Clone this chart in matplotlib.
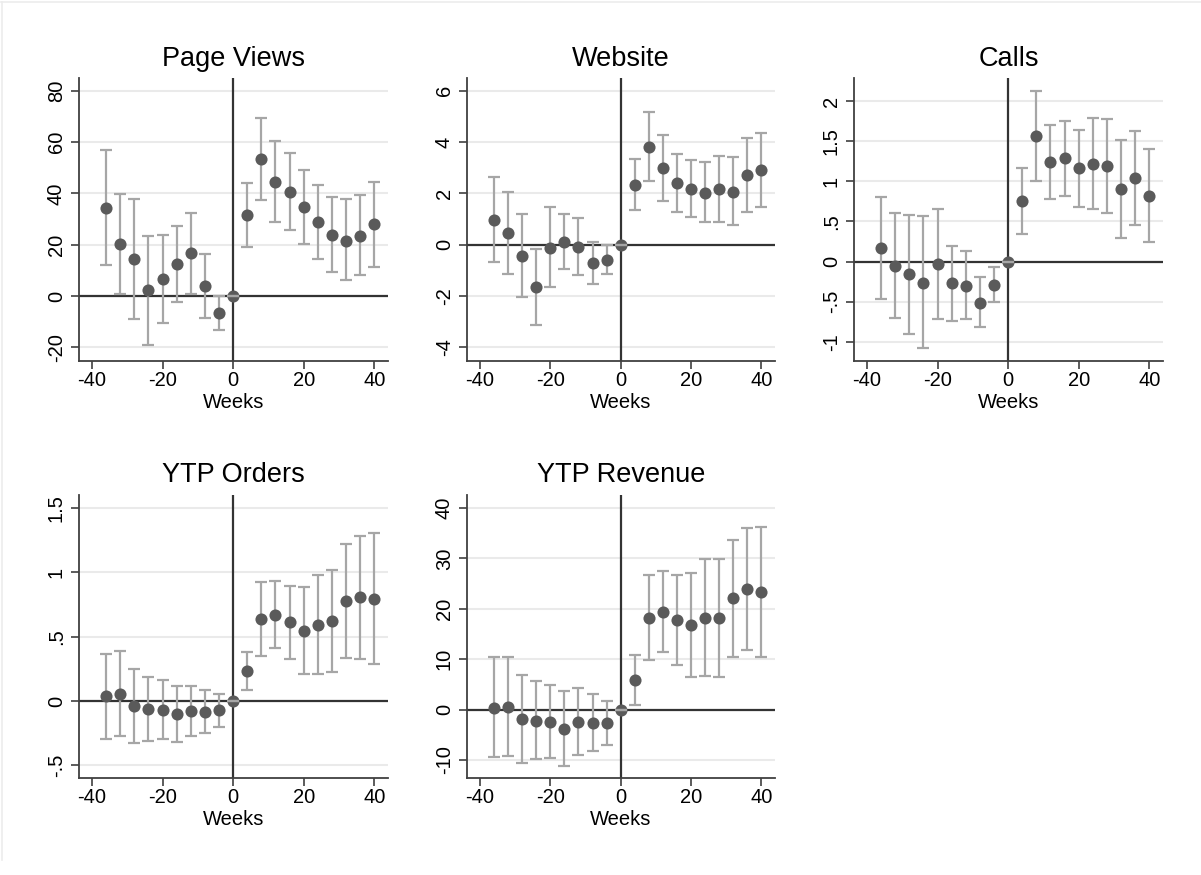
import numpy as np
import matplotlib.pyplot as plt
from matplotlib.lines import Line2D

plt.rcParams['font.family'] = ['Liberation Sans', 'DejaVu Sans']
plt.rcParams['axes.unicode_minus'] = False

# event-time (weeks relative to start)
weeks = [-36, -32, -28, -24, -20, -16, -12, -8, -4, 0,
         4, 8, 12, 16, 20, 24, 28, 32, 36, 40]

# Page Views: estimate, lower CI, upper CI
pv_est = [34.5, 20.4, 14.5, 2.2, 6.6, 12.4, 16.7, 3.8, -6.6, 0,
          31.5, 53.4, 44.6, 40.7, 34.6, 28.8, 24.0, 21.5, 23.6, 28.0]
pv_lo = [12.2, 0.8, -8.9, -19.1, -10.5, -2.2, 0.8, -8.7, -13.4, 0,
         19.2, 37.6, 28.7, 25.9, 20.2, 14.5, 9.3, 6.1, 8.2, 11.5]
pv_hi = [57.1, 39.9, 38.0, 23.6, 23.9, 27.5, 32.5, 16.3, 0.0, 0,
         44.0, 69.4, 60.6, 55.8, 49.3, 43.4, 38.8, 37.7, 39.4, 44.5]

# Website
web_est = [0.96, 0.45, -0.45, -1.66, -0.12, 0.12, -0.09, -0.71, -0.58, 0,
           2.32, 3.82, 2.99, 2.40, 2.15, 2.03, 2.15, 2.05, 2.71, 2.90]
web_lo = [-0.69, -1.14, -2.02, -3.14, -1.65, -0.96, -1.19, -1.52, -1.13, 0,
          1.36, 2.48, 1.70, 1.28, 1.06, 0.87, 0.88, 0.75, 1.26, 1.46]
web_hi = [2.64, 2.07, 1.19, -0.18, 1.45, 1.19, 1.02, 0.12, 0.0, 0,
          3.32, 5.18, 4.28, 3.54, 3.29, 3.21, 3.47, 3.40, 4.15, 4.35]

# Calls
calls_est = [0.17, -0.06, -0.16, -0.26, -0.03, -0.27, -0.30, -0.51, -0.29, 0,
             0.75, 1.56, 1.24, 1.29, 1.16, 1.22, 1.19, 0.91, 1.04, 0.82]
calls_lo = [-0.46, -0.70, -0.90, -1.07, -0.71, -0.74, -0.72, -0.81, -0.50, 0,
            0.34, 1.00, 0.78, 0.82, 0.68, 0.66, 0.60, 0.30, 0.45, 0.245]
calls_hi = [0.81, 0.60, 0.585, 0.57, 0.65, 0.20, 0.13, -0.195, -0.066, 0,
            1.17, 2.12, 1.70, 1.755, 1.64, 1.79, 1.78, 1.52, 1.63, 1.40]

# YTP Orders
ord_est = [0.036, 0.055, -0.039, -0.060, -0.067, -0.104, -0.080, -0.083, -0.073, 0,
           0.236, 0.638, 0.672, 0.610, 0.542, 0.594, 0.618, 0.776, 0.807, 0.794]
ord_lo = [-0.296, -0.273, -0.324, -0.311, -0.296, -0.322, -0.270, -0.252, -0.200, 0,
          0.088, 0.353, 0.410, 0.324, 0.210, 0.213, 0.226, 0.335, 0.327, 0.288]
ord_hi = [0.363, 0.387, 0.247, 0.189, 0.161, 0.117, 0.114, 0.083, 0.055, 0,
          0.384, 0.924, 0.932, 0.893, 0.882, 0.978, 1.017, 1.217, 1.285, 1.308]

# YTP Revenue
rev_est = [0.40, 0.53, -1.92, -2.19, -2.39, -3.78, -2.52, -2.59, -2.72, 0,
           5.84, 18.18, 19.44, 17.78, 16.85, 18.24, 18.24, 22.09, 23.88, 23.35]
rev_lo = [-9.49, -9.22, -10.61, -9.88, -9.62, -11.14, -9.09, -8.29, -7.03, 0,
          1.00, 9.75, 11.41, 8.82, 6.50, 6.70, 6.50, 10.41, 11.74, 10.41]
rev_hi = [10.35, 10.35, 6.83, 5.64, 4.91, 3.78, 4.25, 3.18, 1.79, 0,
          10.88, 26.80, 27.53, 26.80, 27.20, 29.85, 29.92, 33.70, 36.09, 36.29]

titles = ["Page Views", "Website", "Calls", "YTP Orders", "YTP Revenue"]
x_ticks = [-40, -20, 0, 20, 40]
pv_ticks = [-20, 0, 20, 40, 60, 80]
web_ticks = [-4, -2, 0, 2, 4, 6]
calls_ticks = [-1, -0.5, 0, 0.5, 1, 1.5, 2]
ord_ticks = [-0.5, 0, 0.5, 1, 1.5]
rev_ticks = [-10, 0, 10, 20, 30, 40]


def stata_label(v):
    # stata drops the leading zero: .5, -.5
    s = f"{v:g}"
    if s.startswith("0."):
        s = s[1:]
    elif s.startswith("-0."):
        s = "-" + s[2:]
    return s


W, H = 1201, 875
fig = plt.figure(figsize=(W / 100, H / 100), dpi=100)

# faint outer frame (top and left edges)
fig.add_artist(Line2D([1 / W, 1], [1 - 2 / H, 1 - 2 / H], transform=fig.transFigure,
                      color='#ececec', lw=1.2))
fig.add_artist(Line2D([1.5 / W, 1.5 / W], [1 - 2 / H, 15 / H], transform=fig.transFigure,
                      color='#ececec', lw=1.2))


def px_rect(left, top, right, bottom):
    return [left / W, (H - bottom) / H, (right - left) / W, (bottom - top) / H]


panels = [
    (titles[0], pv_est, pv_lo, pv_hi, pv_ticks, (-25.3, 85.0), px_rect(79, 78, 388, 361)),
    (titles[1], web_est, web_lo, web_hi, web_ticks, (-4.53, 6.49), px_rect(467, 78, 775, 361)),
    (titles[2], calls_est, calls_lo, calls_hi, calls_ticks, (-1.237, 2.286), px_rect(854, 78, 1163, 361)),
    (titles[3], ord_est, ord_lo, ord_hi, ord_ticks, (-0.599, 1.601), px_rect(79, 495, 388, 778)),
    (titles[4], rev_est, rev_lo, rev_hi, rev_ticks, (-13.58, 42.58), px_rect(467, 495, 775, 778)),
]

dark = '#404040'
for title, est, lo, hi, yticks, ylim, rect in panels:
    ax = fig.add_axes(rect)
    est = np.array(est)
    lo = np.array(lo)
    hi = np.array(hi)

    ax.set_xlim(-43.7, 43.9)
    ax.set_ylim(*ylim)

    ax.yaxis.grid(True, color='#eaeaea', lw=1.5)
    ax.set_axisbelow(True)

    ax.axhline(0, color='#333333', lw=1.6, zorder=1.5)
    ax.axvline(0, color='#333333', lw=1.6, zorder=1.5)

    ax.errorbar(weeks, est, yerr=[est - lo, hi - est], fmt='none', ecolor='#a6a6a6',
                elinewidth=1.6, capsize=4.5, capthick=1.6, zorder=2)
    ax.scatter(weeks, est, s=76, color='#5a5a5a', linewidths=0, zorder=3)
    # the reference week: its zero-width cap sits on top of the marker
    i0 = weeks.index(0)
    ax.errorbar([weeks[i0]], [est[i0]], yerr=[[0], [0]], fmt='none', ecolor='#a6a6a6',
                elinewidth=1.6, capsize=4.5, capthick=1.6, zorder=4)

    ax.set_xticks(x_ticks)
    ax.set_yticks(yticks)
    ax.set_yticklabels([stata_label(v) for v in yticks], rotation=90, va='center')

    for side in ['top', 'right']:
        ax.spines[side].set_visible(False)
    for side in ['left', 'bottom']:
        ax.spines[side].set_color(dark)
        ax.spines[side].set_linewidth(1.3)

    ax.tick_params(direction='out', length=5.5, width=1.2, color=dark, labelsize=14.5,
                   labelcolor='black')
    ax.tick_params(axis='y', pad=4)
    ax.tick_params(axis='x', pad=1.5)

    ax.set_xlabel("Weeks", fontsize=14.5, labelpad=2.5)
    ax.set_title(title, fontsize=19.5, pad=9)

fig.savefig('out.png', dpi=100)
